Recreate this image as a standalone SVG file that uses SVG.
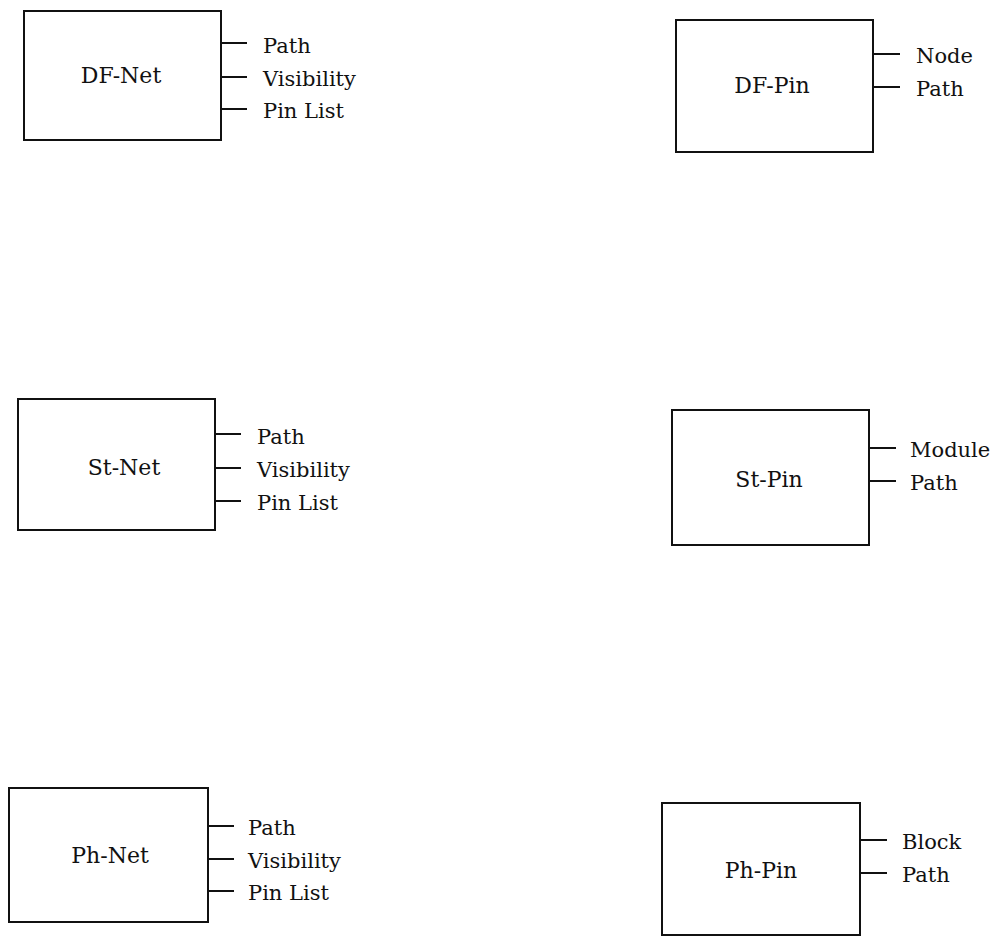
<svg xmlns="http://www.w3.org/2000/svg" width="996" height="937" viewBox="0 0 996 937">
<defs>
<style>
.box{fill:#fff;stroke:#111;stroke-width:2}
.tick{stroke:#111;stroke-width:2}
</style>
</defs>
<rect width="996" height="937" fill="#fff"/>
<g font-family="DejaVu Serif, serif" font-size="21" fill="#111">
<g id="df-net">
<rect class="box" x="24" y="11" width="197" height="129"/>
<text x="121" y="83" text-anchor="middle" font-size="22">DF-Net</text>
</g>
<g id="df-pin">
<rect class="box" x="676" y="20" width="197" height="132"/>
<text x="772" y="93" text-anchor="middle" font-size="22">DF-Pin</text>
</g>
<g id="st-net">
<rect class="box" x="18" y="399" width="197" height="131"/>
<text x="124" y="475" text-anchor="middle" font-size="22">St-Net</text>
</g>
<g id="st-pin">
<rect class="box" x="672" y="410" width="197" height="135"/>
<text x="769" y="487" text-anchor="middle" font-size="22">St-Pin</text>
</g>
<g id="ph-net">
<rect class="box" x="9" y="788" width="199" height="134"/>
<text x="110" y="863" text-anchor="middle" font-size="22">Ph-Net</text>
</g>
<g id="ph-pin">
<rect class="box" x="662" y="803" width="198" height="132"/>
<text x="761" y="878" text-anchor="middle" font-size="22">Ph-Pin</text>
</g>
<g id="connectors">
<line class="tick" x1="221" y1="43" x2="247" y2="43"/>
<line class="tick" x1="221" y1="77" x2="247" y2="77"/>
<line class="tick" x1="221" y1="109" x2="247" y2="109"/>
<line class="tick" x1="873" y1="54" x2="900" y2="54"/>
<line class="tick" x1="873" y1="87" x2="900" y2="87"/>
<line class="tick" x1="215" y1="434" x2="241" y2="434"/>
<line class="tick" x1="215" y1="468" x2="241" y2="468"/>
<line class="tick" x1="215" y1="501" x2="241" y2="501"/>
<line class="tick" x1="869" y1="448" x2="896" y2="448"/>
<line class="tick" x1="869" y1="481" x2="896" y2="481"/>
<line class="tick" x1="208" y1="826" x2="234" y2="826"/>
<line class="tick" x1="208" y1="859" x2="234" y2="859"/>
<line class="tick" x1="208" y1="891" x2="234" y2="891"/>
<line class="tick" x1="860" y1="840" x2="887" y2="840"/>
<line class="tick" x1="860" y1="873" x2="887" y2="873"/>
</g>
<g id="labels">
<text x="263" y="53">Path</text>
<text x="263" y="86">Visibility</text>
<text x="263" y="118">Pin List</text>
<text x="916" y="63">Node</text>
<text x="916" y="96">Path</text>
<text x="257" y="444">Path</text>
<text x="257" y="477">Visibility</text>
<text x="257" y="510">Pin List</text>
<text x="910" y="457">Module</text>
<text x="910" y="490">Path</text>
<text x="248" y="835">Path</text>
<text x="248" y="868">Visibility</text>
<text x="248" y="900">Pin List</text>
<text x="902" y="849">Block</text>
<text x="902" y="882">Path</text>
</g>
</g>
</svg>
